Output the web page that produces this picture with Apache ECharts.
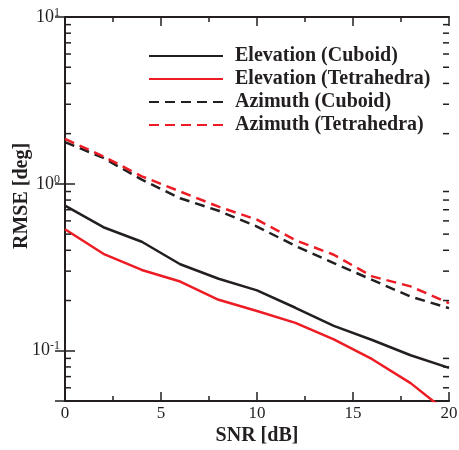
<!DOCTYPE html>
<html>
<head>
<meta charset="utf-8">
<script src="https://cdn.jsdelivr.net/npm/echarts@6/dist/echarts.min.js"></script>
<style>
  html, body { margin: 0; padding: 0; background: #fff; }
  #chart { width: 459px; height: 450px; }
</style>
</head>
<body>
<div id="chart"></div>
<script>
// SNR values in dB
const snr = [0, 2, 4, 6, 8, 10, 12, 14, 16, 18, 20]
// RMSE in degrees
const elevCuboid = [0.74, 0.55, 0.45, 0.33, 0.27, 0.23, 0.181, 0.141, 0.116, 0.094, 0.079]
const elevTetra = [0.535, 0.381, 0.305, 0.26, 0.202, 0.173, 0.147, 0.117, 0.089, 0.064, 0.042]
const azCuboid = [1.78, 1.43, 1.06, 0.82, 0.69, 0.555, 0.425, 0.335, 0.266, 0.211, 0.18]
const azTetra = [1.86, 1.46, 1.11, 0.9, 0.73, 0.61, 0.46, 0.376, 0.279, 0.243, 0.193]
const seriesNames = ['Elevation (Cuboid)', 'Elevation (Tetrahedra)', 'Azimuth (Cuboid)', 'Azimuth (Tetrahedra)']
// minor ticks on the log axis
const yMinorTicks = [0.06, 0.07, 0.08, 0.09, 0.2, 0.3, 0.4, 0.5, 0.6, 0.7, 0.8, 0.9, 2, 3, 4, 5, 6, 7, 8, 9]

const BLACK = '#231f20'
const RED = '#ed1c24'
const FONT = 'Liberation Serif'

const chart = echarts.init(document.getElementById('chart'))

const zip = arr => snr.map((x, i) => [x, arr[i]])

const lineSeries = (name, data, color, dashed) => ({
  name,
  type: 'line',
  data: zip(data),
  symbol: 'none',
  showSymbol: false,
  xAxisIndex: 0,
  yAxisIndex: 0,
  lineStyle: {
    color,
    width: 2.5,
    type: dashed ? [10, 6] : 'solid'
  },
  itemStyle: { color },
  z: 3
})

const xAxisBase = {
  type: 'value',
  min: 0,
  max: 20,
  interval: 5,
  splitLine: { show: false },
  axisLine: { lineStyle: { color: BLACK, width: 2 } },
  axisTick: { inside: true, length: 9, lineStyle: { color: BLACK, width: 1.5 } },
  minorTick: { show: true, splitNumber: 2, length: 5, lineStyle: { color: BLACK, width: 1.5 } }
}

const yAxisBase = {
  type: 'log',
  logBase: 10,
  min: 0.05,
  max: 10,
  splitLine: { show: false },
  axisLine: { show: true, lineStyle: { color: BLACK, width: 2 } },
  axisTick: { inside: true, length: 10, lineStyle: { color: BLACK, width: 1.5 } }
}

const option = {
  backgroundColor: '#fff',
  animation: false,
  grid: { left: 65, right: 10, top: 17, bottom: 49, containLabel: false, outerBoundsMode: 'none' },
  legend: {
    data: seriesNames,
    orient: 'vertical',
    left: 143,
    top: 41,
    itemWidth: 74,
    itemHeight: 14,
    itemGap: 3,
    itemStyle: { opacity: 0 },
    textStyle: {
      fontFamily: FONT,
      fontWeight: 'bold',
      fontSize: 20,
      color: BLACK,
      padding: [0, 0, 0, 7]
    }
  },
  xAxis: [
    Object.assign({}, xAxisBase, {
      position: 'bottom',
      name: 'SNR [dB]',
      nameLocation: 'middle',
      nameGap: 25,
      nameMoveOverlap: false,
      nameTextStyle: { fontFamily: FONT, fontWeight: 'bold', fontSize: 20, color: BLACK },
      axisLabel: { fontFamily: FONT, fontSize: 17, color: BLACK, margin: 4 }
    }),
    Object.assign({}, xAxisBase, {
      position: 'top',
      axisLabel: { show: false }
    })
  ],
  yAxis: [
    Object.assign({}, yAxisBase, {
      position: 'left',
      name: 'RMSE [deg]',
      nameLocation: 'middle',
      nameGap: 33,
      nameMoveOverlap: false,
      nameTextStyle: { fontFamily: FONT, fontWeight: 'bold', fontSize: 20, color: BLACK, padding: [0, 0, 0, 26] },
      axisLabel: {
        margin: 5,
        formatter: (value) => {
          const e = Math.log10(value)
          if (Math.abs(e - Math.round(e)) > 1e-6) {
            return ''
          }
          return '{b|10}{s|' + Math.round(e) + '}'
        },
        rich: {
          b: { fontFamily: FONT, fontSize: 18, color: BLACK },
          s: { fontFamily: FONT, fontSize: 12, color: BLACK, padding: [0, 0, 9, 0] }
        }
      }
    }),
    Object.assign({}, yAxisBase, {
      position: 'right',
      axisLabel: { show: false }
    })
  ],
  series: [
    lineSeries(seriesNames[0], elevCuboid, BLACK, false),
    lineSeries(seriesNames[1], elevTetra, RED, false),
    lineSeries(seriesNames[2], azCuboid, BLACK, true),
    lineSeries(seriesNames[3], azTetra, RED, true),
    {
      // minor ticks of the log axes (left and right)
      name: 'minorTicks',
      type: 'custom',
      silent: true,
      xAxisIndex: 0,
      yAxisIndex: 0,
      data: yMinorTicks.map(v => [0, v]),
      renderItem: (params, api) => {
        const y = api.coord([0, api.value(1)])[1]
        const cs = params.coordSys
        const style = { stroke: BLACK, lineWidth: 1.5 }
        return {
          type: 'group',
          children: [
            { type: 'line', shape: { x1: cs.x, y1: y, x2: cs.x + 6, y2: y }, style },
            { type: 'line', shape: { x1: cs.x + cs.width - 6, y1: y, x2: cs.x + cs.width, y2: y }, style }
          ]
        }
      },
      z: 4
    }
  ]
}

chart.setOption(option)
</script>
</body>
</html>
